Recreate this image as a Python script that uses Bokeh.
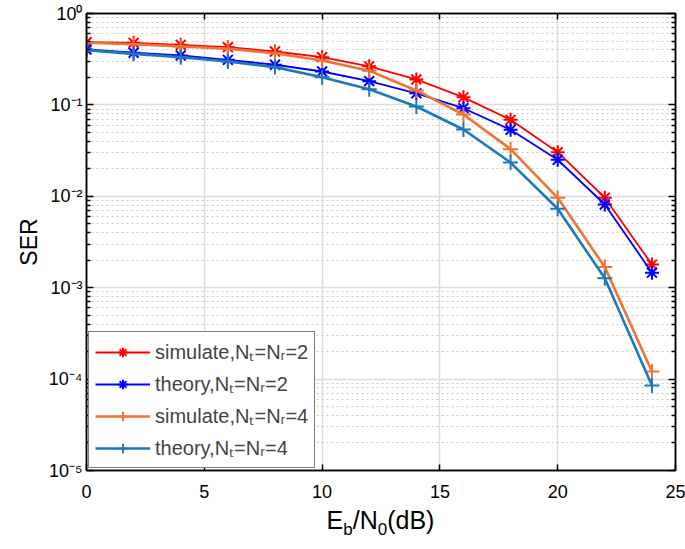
from bokeh.plotting import figure
from bokeh.layouts import column
from bokeh.models import (LogAxis, LinearAxis, Legend, LegendItem, Div,
                          FixedTicker, CustomJSTickFormatter)
from bokeh.embed import file_html
from bokeh.resources import INLINE

# ---- data ----
snr_db = [0, 2, 4, 6, 8, 10, 12, 14, 16, 18, 20, 22, 24]
ser_sim_2 = [0.485, 0.478, 0.454, 0.428, 0.384, 0.333, 0.264, 0.190, 0.121,
             0.0687, 0.0304, 0.00964, 0.00179]
ser_theory_2 = [0.404, 0.372, 0.347, 0.311, 0.275, 0.232, 0.182, 0.134, 0.092,
                0.0534, 0.0251, 0.00813, 0.00146]
ser_sim_4 = [0.478, 0.461, 0.436, 0.411, 0.368, 0.306, 0.236, 0.144, 0.0785,
             0.0328, 0.00963, 0.00168, 0.000121]
ser_theory_4 = [0.397, 0.362, 0.333, 0.298, 0.259, 0.201, 0.148, 0.096, 0.0538,
                0.0234, 0.0073, 0.00127, 0.0000851]

x_ticks = [0, 5, 10, 15, 20, 25]
y_ticks = [1e-5, 1e-4, 1e-3, 1e-2, 1e-1, 1.0]
y_tick_labels = ["10\u207b\u2075", "10\u207b\u2074", "10\u207b\u00b3",
                 "10\u207b\u00b2", "10\u207b\u00b9", "10\u2070"]
y_minor = [m * d for d in [1e-5, 1e-4, 1e-3, 1e-2, 1e-1] for m in range(2, 10)]

series_labels = ["simulate,N\u209c=N\u1d63=2", "theory,N\u209c=N\u1d63=2",
                 "simulate,N\u209c=N\u1d63=4", "theory,N\u209c=N\u1d63=4"]
x_label_html = "E<sub style='font-size:17px'>b</sub>/N<sub style='font-size:17px'>0</sub>(dB)"

FONT = "Liberation Sans"

p = figure(width=685, height=508, x_range=(0, 25), y_range=(1e-5, 1),
           y_axis_type="log", output_backend="svg", toolbar_location=None,
           min_border_left=86, min_border_top=13, min_border_right=10,
           min_border_bottom=38)
p.outline_line_color = "black"
p.outline_line_width = 1.5

xticker = FixedTicker(ticks=x_ticks)
yticker = FixedTicker(ticks=y_ticks, minor_ticks=y_minor)

p.xaxis.ticker = xticker
p.yaxis.ticker = yticker
p.yaxis.major_label_overrides = {v: s for v, s in zip(y_ticks, y_tick_labels)}

for ax in p.xaxis:
    ax.major_tick_in = 6
    ax.major_tick_out = 0
    ax.minor_tick_in = 0
    ax.minor_tick_out = 0
    ax.major_label_text_font = FONT
    ax.major_label_text_font_size = "18px"
    ax.major_label_text_color = "black"
    ax.major_label_standoff = 14
    ax.axis_line_width = 1.5
    ax.axis_line_color = "black"
    ax.major_tick_line_width = 1.5

for ax in p.yaxis:
    ax.major_tick_in = 7
    ax.major_tick_out = 0
    ax.minor_tick_in = 4
    ax.minor_tick_out = 0
    ax.major_label_text_font = FONT
    ax.major_label_text_font_size = "18px"
    ax.major_label_text_color = "black"
    ax.major_label_standoff = 4
    ax.axis_line_width = 1.5
    ax.axis_line_color = "black"
    ax.major_tick_line_width = 1.5
    ax.minor_tick_line_width = 1.5
    ax.axis_label = "SER"
    ax.axis_label_text_font = FONT
    ax.axis_label_text_font_style = "normal"
    ax.axis_label_text_font_size = "23px"
    ax.axis_label_text_color = "black"
    ax.axis_label_standoff = 4

blank = CustomJSTickFormatter(code="return '';")
right_ax = LogAxis(ticker=yticker, formatter=blank,
                   major_label_standoff=0, major_tick_in=7, major_tick_out=0,
                   minor_tick_in=4, minor_tick_out=0, axis_line_width=1.5,
                   major_tick_line_width=1.5, minor_tick_line_width=1.5)
p.add_layout(right_ax, "right")
top_ax = LinearAxis(ticker=xticker, formatter=blank,
                    major_label_standoff=0, major_tick_in=6, major_tick_out=0,
                    minor_tick_in=0, minor_tick_out=0, axis_line_width=1.5,
                    major_tick_line_width=1.5)
p.add_layout(top_ax, "above")

p.xgrid.grid_line_color = "#dcdcdc"
p.xgrid.grid_line_width = 1.5
p.ygrid.grid_line_color = "#dcdcdc"
p.ygrid.grid_line_width = 1.5
p.ygrid.minor_grid_line_color = "#c8c8c8"
p.ygrid.minor_grid_line_dash = "2 3"
p.ygrid.minor_grid_line_width = 1

styles = [
    (ser_sim_2, "#ff0000", "asterisk", 1.8, 14),
    (ser_theory_2, "#0000ff", "asterisk", 1.8, 14),
    (ser_sim_4, "#ee7434", "cross", 2.6, 15),
    (ser_theory_4, "#1f78b8", "cross", 2.6, 15),
]
items = []
for (vals, color, marker, lw, ms), lab in zip(styles, series_labels):
    ln = p.line(snr_db, vals, line_color=color, line_width=lw)
    sc = p.scatter(snr_db, vals, marker=marker, size=ms, line_color=color,
                   line_width=2)
    items.append(LegendItem(label=lab, renderers=[ln, sc]))

legend = Legend(items=items, location="bottom_left", margin=2, padding=6,
                spacing=5, glyph_width=55, glyph_height=24, label_height=24,
                label_standoff=5, label_text_font=FONT,
                label_text_font_size="20px", border_line_color="black",
                border_line_width=1.5, background_fill_alpha=1.0)
p.add_layout(legend, "center")

xlabel = Div(text=x_label_html, width=589, height=41, margin=(0, 0, 0, 86),
             styles={"font-family": FONT, "font-size": "25px",
                     "text-align": "center", "line-height": "25px",
                     "color": "black", "padding-top": "0px"})

layout = column(p, xlabel, spacing=0)
open("out.html", "w").write(file_html(layout, INLINE))
